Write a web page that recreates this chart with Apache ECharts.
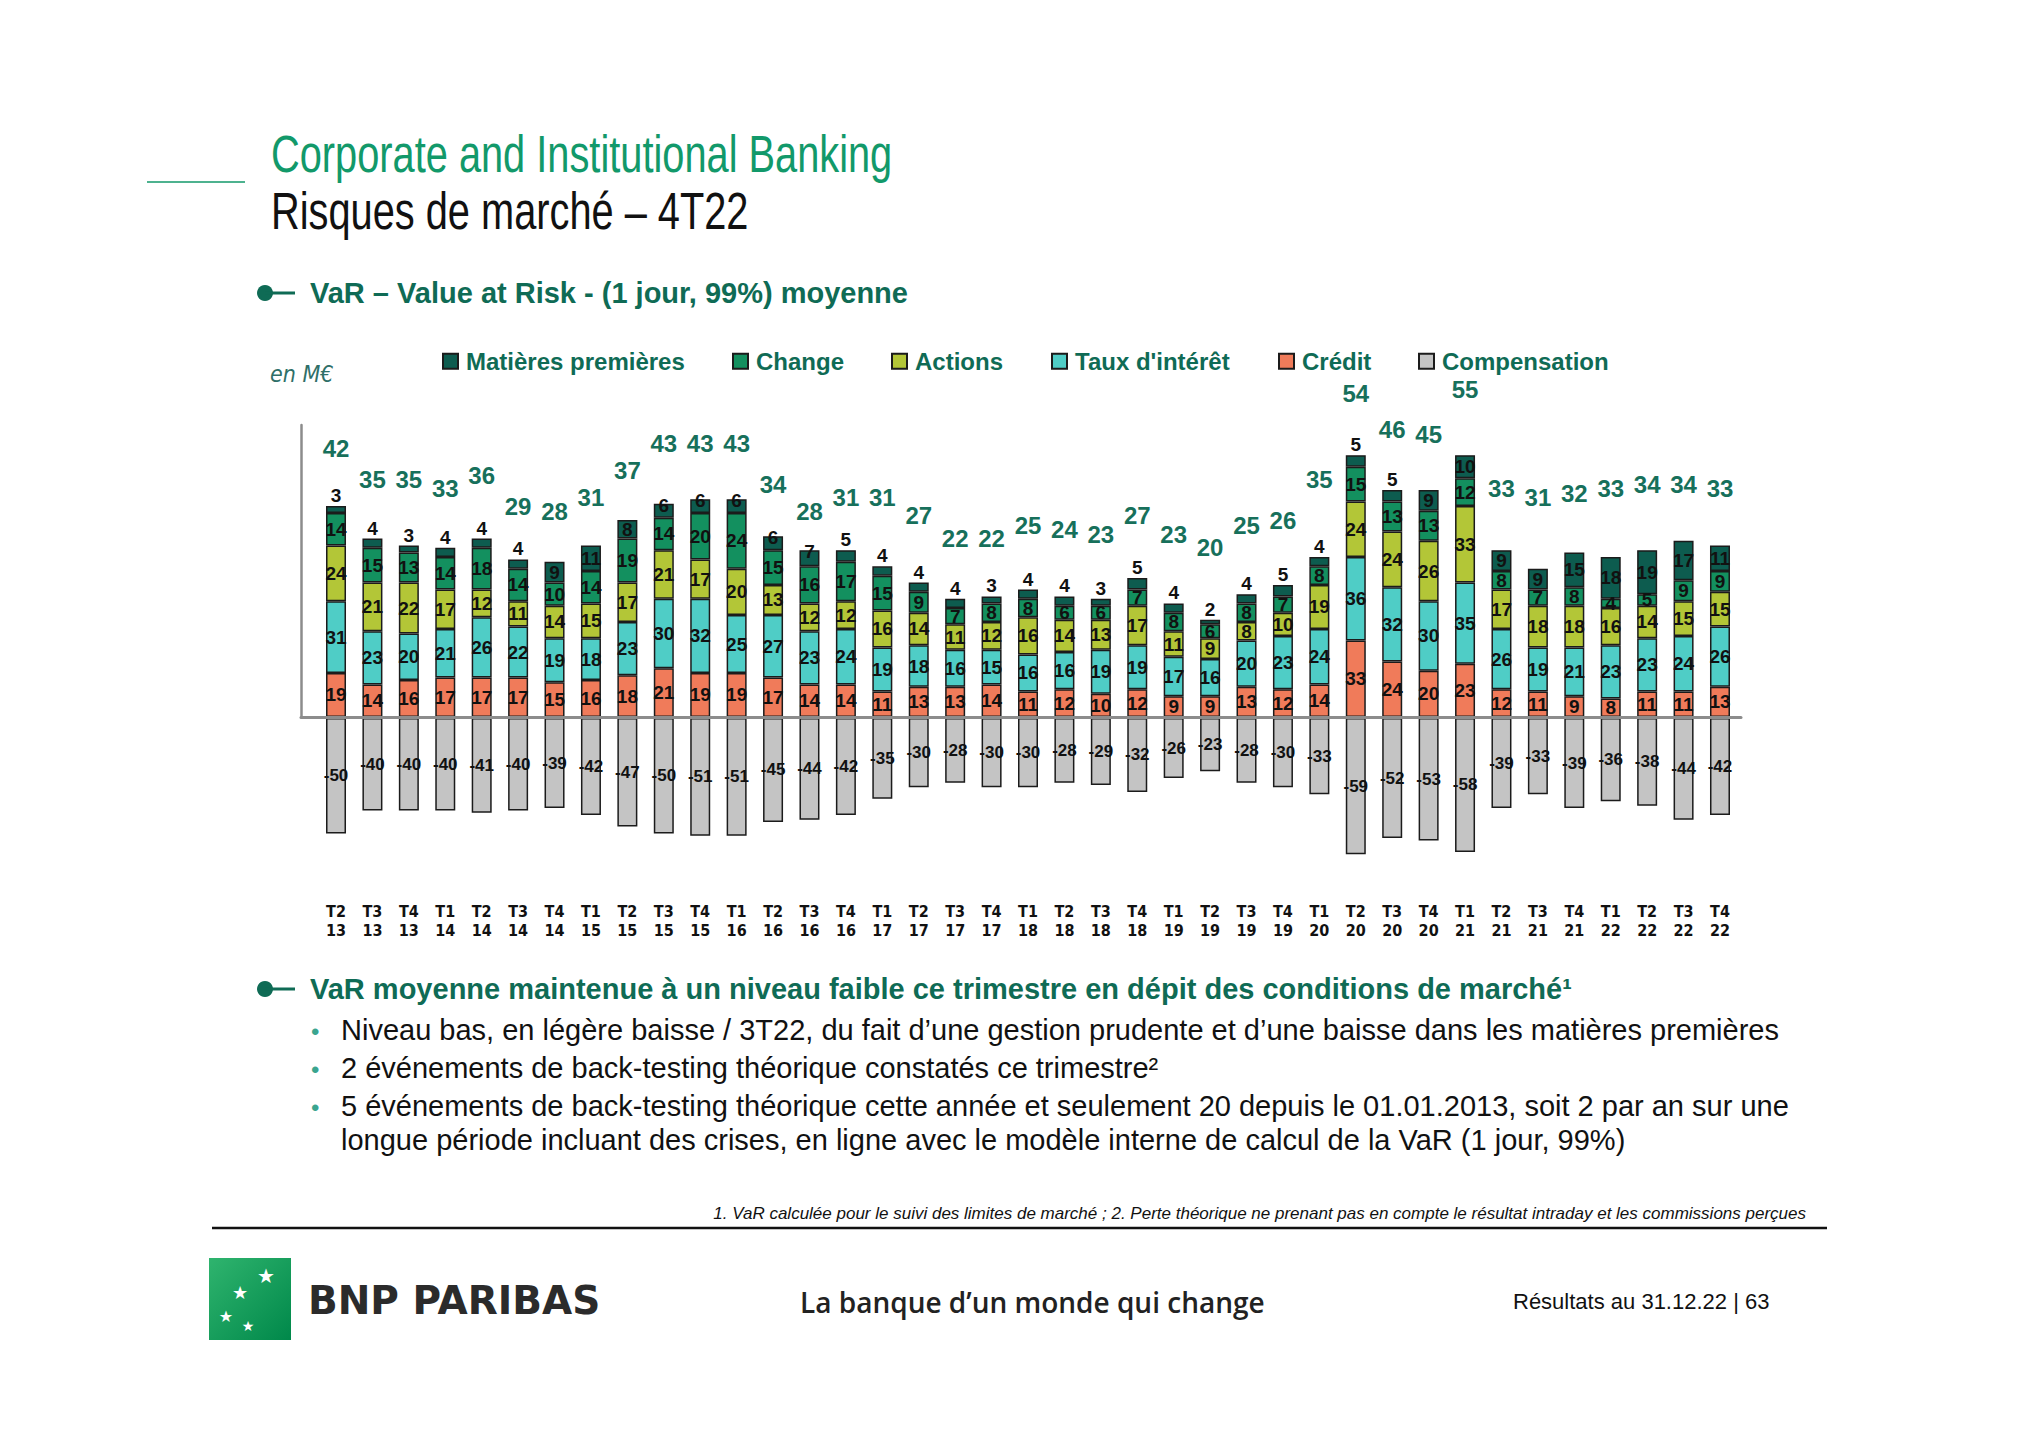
<!DOCTYPE html>
<html><head><meta charset="utf-8">
<script src="https://cdn.jsdelivr.net/npm/echarts@6/dist/echarts.min.js"></script>
<style>html,body{margin:0;padding:0;background:#fff}#c{width:2040px;height:1442px}</style>
</head><body><div id="c"></div>
<script>
// ---------- DATA ----------
const quarters = ["T2\n13","T3\n13","T4\n13","T1\n14","T2\n14","T3\n14","T4\n14","T1\n15","T2\n15","T3\n15","T4\n15","T1\n16","T2\n16","T3\n16","T4\n16","T1\n17","T2\n17","T3\n17","T4\n17","T1\n18","T2\n18","T3\n18","T4\n18","T1\n19","T2\n19","T3\n19","T4\n19","T1\n20","T2\n20","T3\n20","T4\n20","T1\n21","T2\n21","T3\n21","T4\n21","T1\n22","T2\n22","T3\n22","T4\n22"];
const credit = [19,14,16,17,17,17,15,16,18,21,19,19,17,14,14,11,13,13,14,11,12,10,12,9,9,13,12,14,33,24,20,23,12,11,9,8,11,11,13];
const tauxInteret = [31,23,20,21,26,22,19,18,23,30,32,25,27,23,24,19,18,16,15,16,16,19,19,17,16,20,23,24,36,32,30,35,26,19,21,23,23,24,26];
const actions = [24,21,22,17,12,11,14,15,17,21,17,20,13,12,12,16,14,11,12,16,14,13,17,11,9,8,10,19,24,24,26,33,17,18,18,16,14,15,15];
const change = [14,15,13,14,18,14,10,14,19,14,20,24,15,16,17,15,9,7,8,8,6,6,7,8,6,8,7,8,15,13,13,12,8,7,8,4,5,9,9];
const matieres = [3,4,3,4,4,4,9,11,8,6,6,6,6,7,5,4,4,4,3,4,4,3,5,4,2,4,5,4,5,5,9,10,9,9,15,18,19,17,11];
const compensation = [-50,-40,-40,-40,-41,-40,-39,-42,-47,-50,-51,-51,-45,-44,-42,-35,-30,-28,-30,-30,-28,-29,-32,-26,-23,-28,-30,-33,-59,-52,-53,-58,-39,-33,-39,-36,-38,-44,-42];
const totals = [42,35,35,33,36,29,28,31,37,43,43,43,34,28,31,31,27,22,22,25,24,23,27,23,20,25,26,35,54,46,45,55,33,31,32,33,34,34,33];
const seriesNames = ["Matières premières","Change","Actions","Taux d'intérêt","Crédit","Compensation"];

// ---------- STYLE ----------
const COND = "'DejaVu Sans Condensed','DejaVu Sans',sans-serif";
const SANS = "'Liberation Sans',Arial,sans-serif";
const COLORS = {mp:'#0d5c4f', change:'#13905f', actions:'#b3c637', taux:'#4fcdc6', credit:'#f07b5a', comp:'#c4c4c4'};
const GREEN_TXT = '#0f6b55';

const chart = echarts.init(document.getElementById('c'), null, {renderer:'svg'});

function barLabel(extra){
  return Object.assign({show:true, position:'inside', color:'#111', fontFamily:SANS, fontWeight:'bold', fontSize:19}, extra||{});
}
function posSeries(name, arr, color, itemFn){
  return {name, type:'bar', xAxisIndex:0, yAxisIndex:0, stack:'pos', barWidth:20,
    itemStyle:{color, borderColor:'#1b1b1b', borderWidth:1.5},
    label:barLabel(),
    data:arr.map((v,i)=>itemFn?itemFn(v,i):v)};
}
const mpItem = (v)=>{
  const it = {value:v};
  if (v<=5) it.label = {position:'top', distance:1};
  else if (v<=7) it.label = {position:'top', distance:-11};
  return it;
};

const legendX = [442,732,891,1051,1278,1418];

const gText = (x,y,text,font,fill,align,sx)=>({type:'text', x, y, silent:true, scaleX:sx||1,
  style:{text, font, fill, textAlign:align||'left', textVerticalAlign:'middle'}});

const option = {
  animation:false,
  backgroundColor:'#fff',
  grid:[
    {left:317.8, top:425, width:1420.4, height:292},
    {left:317.8, top:718, width:1420.4, height:161.7},
    {left:317.8, top:366.6, width:1420.4, height:271.6},
    {left:301, top:425, width:1440, height:292}
  ],
  xAxis:[
    {type:'category', gridIndex:0, data:quarters, show:false},
    {type:'category', gridIndex:1, data:quarters, position:'bottom',
      axisLine:{show:false, onZero:false}, axisTick:{show:false},
      axisLabel:{interval:0, margin:22, fontFamily:COND, fontWeight:'bold', fontSize:16, lineHeight:19, color:'#111'}},
    {type:'category', gridIndex:2, data:quarters, show:false},
    {type:'value', gridIndex:3, min:0, max:1, z:5,
      axisLine:{show:true, onZero:false, lineStyle:{color:'#8c8c8c', width:3}},
      axisTick:{show:false}, axisLabel:{show:false}, splitLine:{show:false}}
  ],
  yAxis:[
    {type:'value', gridIndex:0, min:0, max:126, show:false, splitLine:{show:false}},
    {type:'value', gridIndex:1, min:-70, max:0, show:false, splitLine:{show:false}},
    {type:'value', gridIndex:2, min:0, max:60, show:false, splitLine:{show:false}},
    {type:'value', gridIndex:3, min:0, max:1, z:5,
      axisLine:{show:true, onZero:false, lineStyle:{color:'#8c8c8c', width:2.5}},
      axisTick:{show:false}, axisLabel:{show:false}, splitLine:{show:false}}
  ],
  legend: seriesNames.map((n,k)=>({data:[n], left:legendX[k], top:349.2, padding:0, itemWidth:15, itemHeight:15,
    icon:'rect', selectedMode:false,
    textStyle:{fontFamily:SANS, fontWeight:'bold', fontSize:24, color:GREEN_TXT, padding:[0,0,18,3]}})),
  series:[
    posSeries("Crédit", credit, COLORS.credit),
    posSeries("Taux d'intérêt", tauxInteret, COLORS.taux),
    posSeries("Actions", actions, COLORS.actions),
    posSeries("Change", change, COLORS.change),
    posSeries("Matières premières", matieres, COLORS.mp, mpItem),
    {name:"Compensation", type:'bar', xAxisIndex:1, yAxisIndex:1, barWidth:20,
      itemStyle:{color:COLORS.comp, borderColor:'#1b1b1b', borderWidth:1.5},
      label:barLabel({fontSize:17}), data:compensation},
    {name:'Total', type:'scatter', xAxisIndex:2, yAxisIndex:2, symbolSize:1, silent:true,
      itemStyle:{color:'rgba(0,0,0,0)', opacity:1},
      label:{show:true, position:'inside', color:'#17705b', opacity:1, fontFamily:SANS, fontWeight:'bold', fontSize:24},
      data:totals}
  ],
  graphic:[
    {type:'line', silent:true, shape:{x1:147,y1:182,x2:245,y2:182}, style:{stroke:'#12996a', lineWidth:1.5}},
    gText(271,154,'Corporate and Institutional Banking',`52px ${SANS}`,'#12996a','left',0.765),
    gText(271,211,'Risques de marché – 4T22',`52px ${SANS}`,'#111','left',0.765),
    {type:'circle', silent:true, shape:{cx:265,cy:293,r:8}, style:{fill:GREEN_TXT}},
    {type:'line', silent:true, shape:{x1:265,y1:293,x2:295,y2:293}, style:{stroke:GREEN_TXT, lineWidth:3}},
    gText(310,293,'VaR – Value at Risk - (1 jour, 99%) moyenne',`bold 29px ${SANS}`,GREEN_TXT),
    gText(270,374,'en M€',`italic 23px ${COND}`,'#2f6f68'),
    {type:'circle', silent:true, shape:{cx:265,cy:989,r:8}, style:{fill:GREEN_TXT}},
    {type:'line', silent:true, shape:{x1:265,y1:989,x2:295,y2:989}, style:{stroke:GREEN_TXT, lineWidth:3}},
    gText(310,989,'VaR moyenne maintenue à un niveau faible ce trimestre en dépit des conditions de marché¹',`bold 29px ${SANS}`,GREEN_TXT),
    gText(311,1031,'•',`24px ${SANS}`,'#3aa58f'),
    gText(311,1069,'•',`24px ${SANS}`,'#3aa58f'),
    gText(311,1107,'•',`24px ${SANS}`,'#3aa58f'),
    gText(341,1030,'Niveau bas, en légère baisse / 3T22, du fait d’une gestion prudente et d’une baisse dans les matières premières',`29px ${SANS}`,'#111'),
    gText(341,1068,'2 événements de back-testing théorique constatés ce trimestre²',`29px ${SANS}`,'#111'),
    gText(341,1106,'5 événements de back-testing théorique cette année et seulement 20 depuis le 01.01.2013, soit 2 par an sur une',`29px ${SANS}`,'#111'),
    gText(341,1140,'longue période incluant des crises, en ligne avec le modèle interne de calcul de la VaR (1 jour, 99%)',`29px ${SANS}`,'#111'),
    gText(1806,1213,'1. VaR calculée pour le suivi des limites de marché ; 2. Perte théorique ne prenant pas en compte le résultat intraday et les commissions perçues',`italic 17px ${SANS}`,'#111','right'),
    {type:'line', silent:true, shape:{x1:212,y1:1228,x2:1827,y2:1228}, style:{stroke:'#111', lineWidth:2.5}},
    {type:'rect', silent:true, shape:{x:209,y:1258,width:82,height:82},
      style:{fill:new echarts.graphic.LinearGradient(0,0,1,1,[{offset:0,color:'#2fb46e'},{offset:1,color:'#00884a'}])}},
    gText(266,1276,'★',`20px 'DejaVu Sans'`,'#fff','center'),
    gText(240,1292,'★',`18px 'DejaVu Sans'`,'#fff','center'),
    gText(226,1316,'★',`16px 'DejaVu Sans'`,'#fff','center'),
    gText(248,1326,'★',`14px 'DejaVu Sans'`,'#fff','center'),
    gText(308,1300,'BNP PARIBAS',`bold 39px 'DejaVu Sans'`,'#2b2b2b'),
    gText(800,1302,'La banque d’un monde qui change',`600 28px 'Open Sans'`,'#222'),
    gText(1513,1301,'Résultats au 31.12.22 | 63',`22px ${SANS}`,'#111')
  ]
};
chart.setOption(option);
</script></body></html>
